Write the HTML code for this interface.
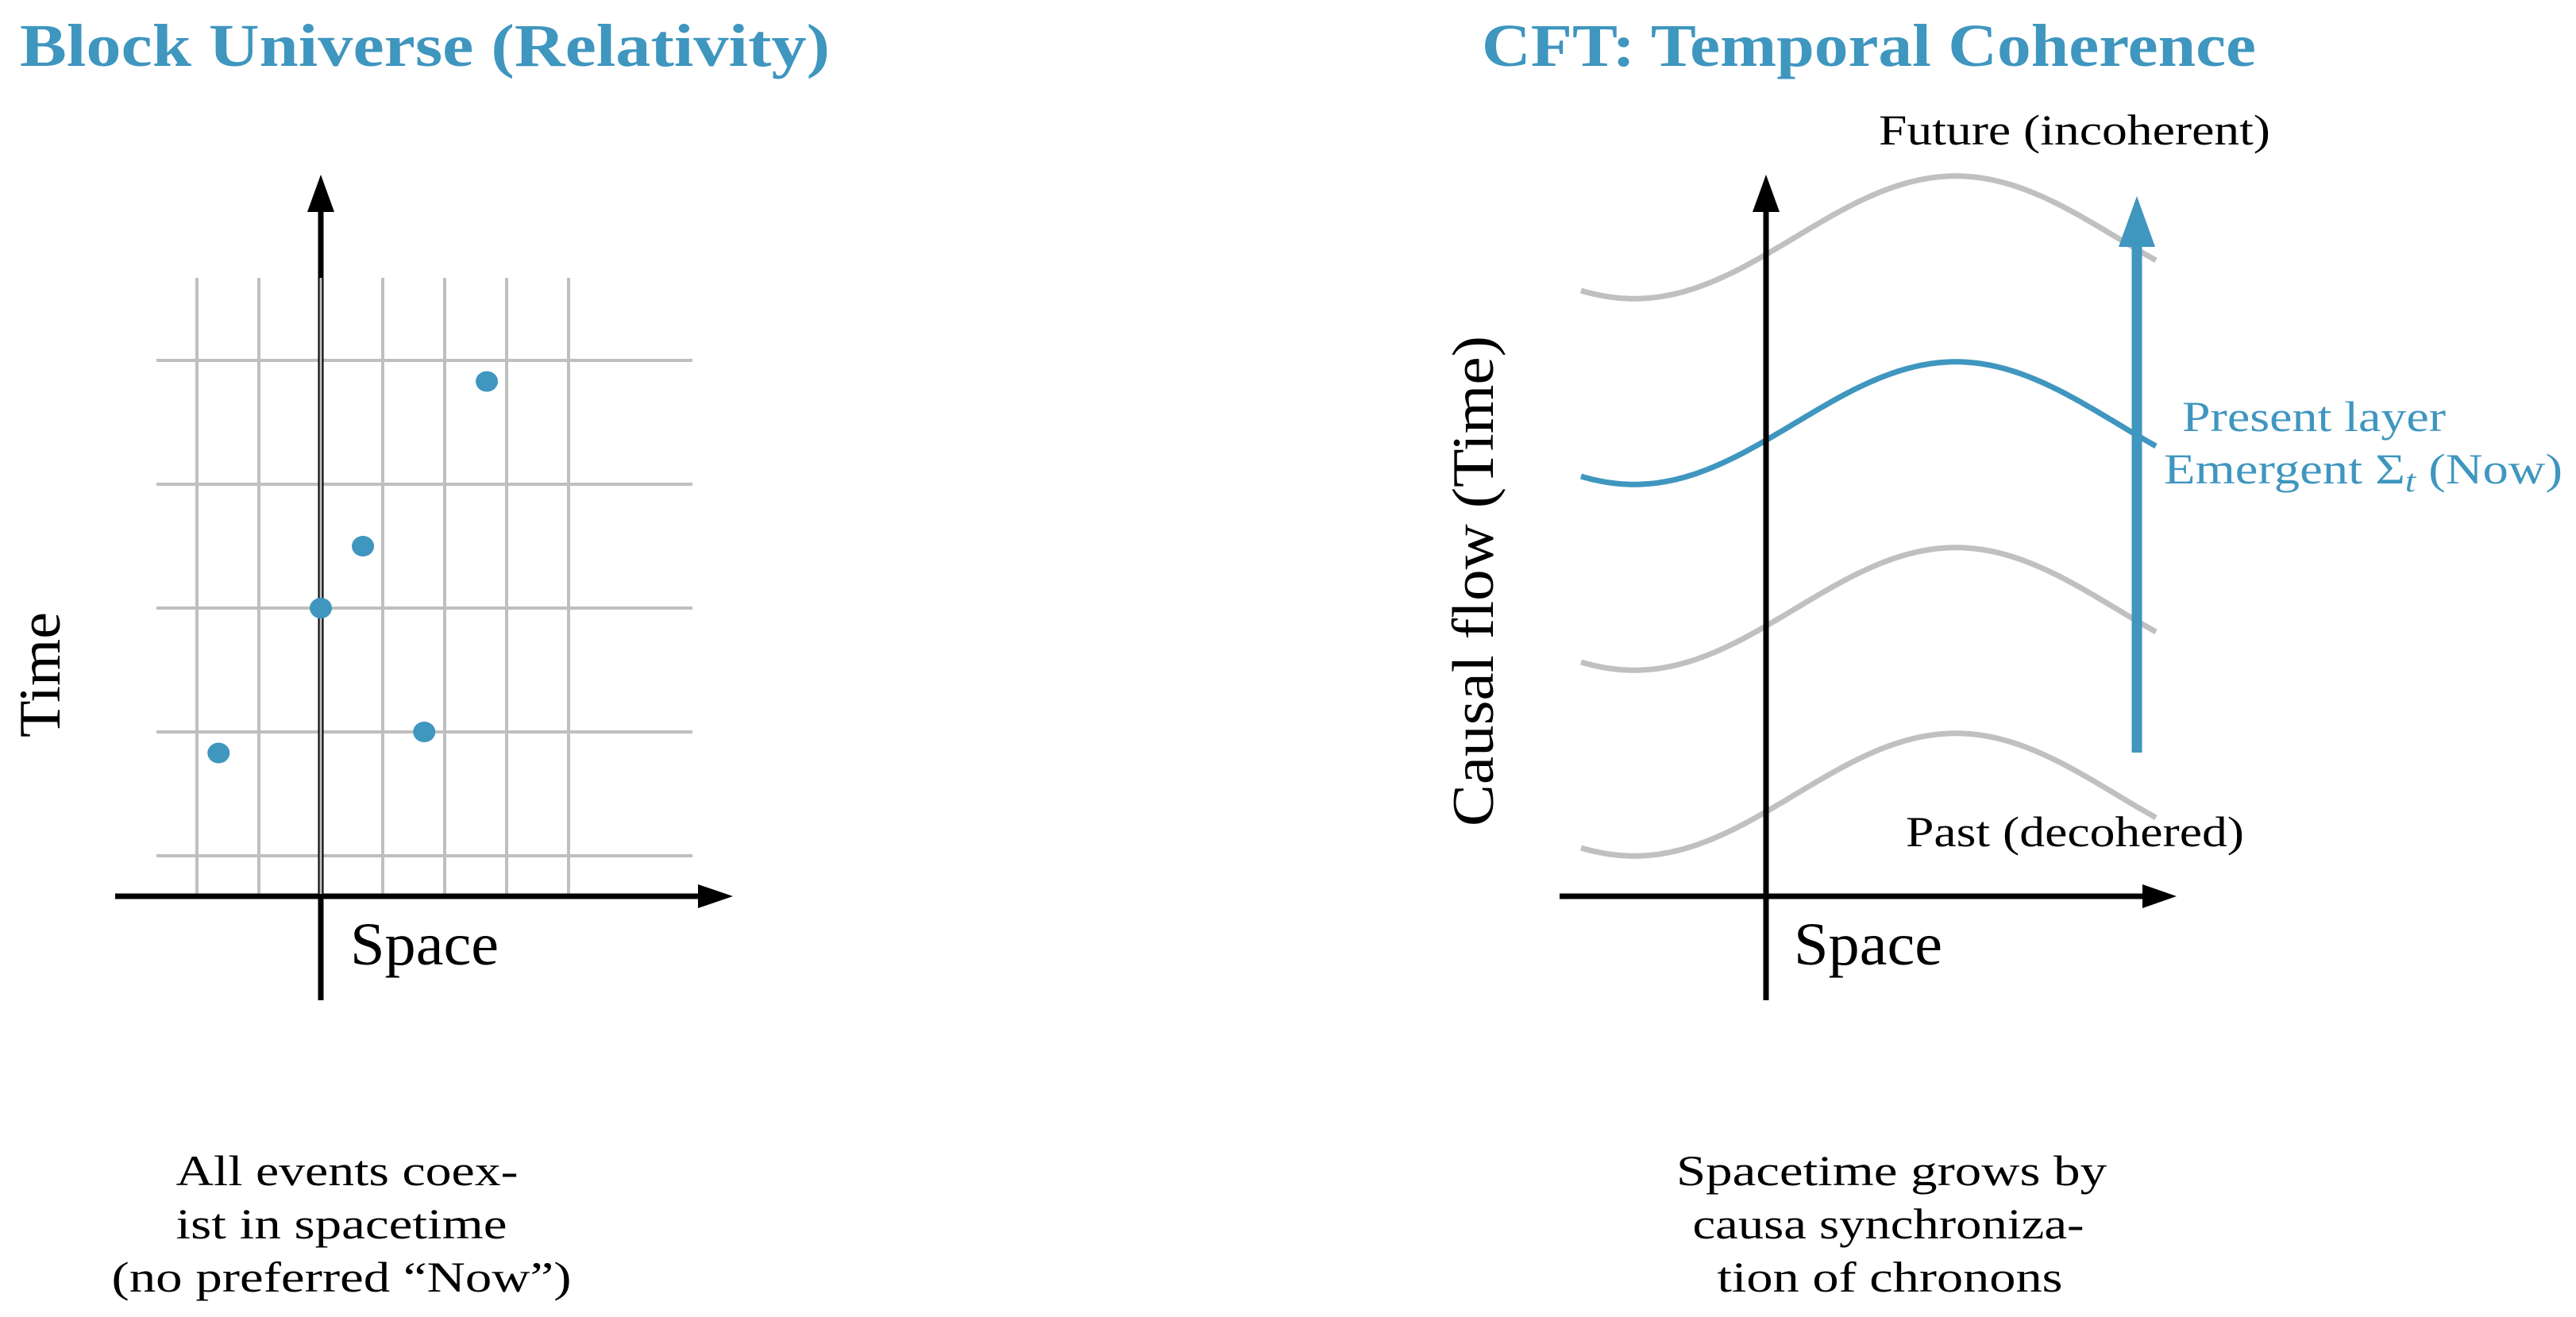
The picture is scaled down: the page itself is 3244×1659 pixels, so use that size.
<!DOCTYPE html>
<html><head><meta charset="utf-8"><style>
html,body{margin:0;padding:0;background:#fff;}
svg{display:block;font-family:"Liberation Serif","DejaVu Serif",serif;}
</style></head><body>
<svg id="chart" width="3244" height="1659" viewBox="0 0 3244 1659" xmlns="http://www.w3.org/2000/svg">
<g id="left">
<text x="25" y="83" font-size="76" font-weight="bold" fill="#3f96bf" textLength="1020" lengthAdjust="spacingAndGlyphs">Block Universe (Relativity)</text>
<g id="grid"></g>
<line x1="145" y1="1129" x2="885" y2="1129" stroke="#000" stroke-width="7"/>
<polygon points="923,1129 879,1114 879,1144" fill="#000"/>
<line x1="404" y1="1260" x2="404" y2="255" stroke="#000" stroke-width="7"/>
<line x1="404" y1="350" x2="404" y2="1126" stroke="#bfbfbf" stroke-width="3"/>
<polygon points="404,220 387,267 421,267" fill="#000"/>
<g id="points"></g>
<text transform="translate(75,850) rotate(-90)" text-anchor="middle" font-size="74" textLength="158" lengthAdjust="spacingAndGlyphs">Time</text>
<text x="441" y="1215" font-size="76" textLength="187" lengthAdjust="spacingAndGlyphs">Space</text>
<g font-size="54" text-anchor="middle">
<text x="437" y="1493" textLength="431" lengthAdjust="spacingAndGlyphs">All events coex-</text>
<text x="430" y="1560" textLength="417" lengthAdjust="spacingAndGlyphs">ist in spacetime</text>
<text x="430" y="1627" textLength="579" lengthAdjust="spacingAndGlyphs">(no preferred “Now”)</text>
</g>
</g>
<g id="right">
<text x="1866" y="83" font-size="76" font-weight="bold" fill="#3f96bf" textLength="975" lengthAdjust="spacingAndGlyphs">CFT: Temporal Coherence</text>
<g id="waves"></g>
<line x1="1964" y1="1129" x2="2705" y2="1129" stroke="#000" stroke-width="7"/>
<polygon points="2741,1129 2698,1114 2698,1144" fill="#000"/>
<line x1="2224" y1="1260" x2="2224" y2="255" stroke="#000" stroke-width="7"/>
<polygon points="2224,220 2207,267 2241,267" fill="#000"/>
<line x1="2691" y1="948" x2="2691" y2="300" stroke="#3f96bf" stroke-width="13"/>
<polygon points="2691,247 2668,311 2714,311" fill="#3f96bf"/>
<text x="2366" y="182" font-size="54" textLength="493" lengthAdjust="spacingAndGlyphs">Future (incoherent)</text>
<text x="2400" y="1066" font-size="54" textLength="426" lengthAdjust="spacingAndGlyphs">Past (decohered)</text>
<text x="2748" y="543" font-size="54" fill="#3f96bf" textLength="332" lengthAdjust="spacingAndGlyphs">Present layer</text>
<text x="2725" y="609" font-size="54" fill="#3f96bf" textLength="502" lengthAdjust="spacingAndGlyphs">Emergent Σ<tspan font-style="italic" font-size="40" dy="10">t</tspan><tspan dy="-10"> (Now)</tspan></text>
<text transform="translate(1880,732) rotate(-90)" text-anchor="middle" font-size="74" textLength="618" lengthAdjust="spacingAndGlyphs">Causal flow (Time)</text>
<text x="2259" y="1215" font-size="76" textLength="187" lengthAdjust="spacingAndGlyphs">Space</text>
<g font-size="54" text-anchor="middle">
<text x="2382" y="1493" textLength="542" lengthAdjust="spacingAndGlyphs">Spacetime grows by</text>
<text x="2378" y="1560" textLength="493" lengthAdjust="spacingAndGlyphs">causa synchroniza-</text>
<text x="2380" y="1627" textLength="435" lengthAdjust="spacingAndGlyphs">tion of chronons</text>
</g>
</g>
<script>
// Left panel data (space units, time units)
const gridX = [-2, -1, 0, 1, 2, 3, 4];
const gridT = [0, 1, 2, 3, 4];
const eventX = [-1.65, 0, 0.68, 1.67, 2.68];
const eventT = [0.83, 2, 2.5, 1, 3.83];
// Right panel data (layers bottom to top)
const layerCenters = [0, 1, 2, 3];
const layerIsPresent = [false, false, true, false];
const waveAmp = 0.33;

const NS = "http://www.w3.org/2000/svg";
function sx(v){ return 404 + v*78; }
function ty(v){ return 1078 - v*156; }
const grid = document.getElementById('grid');
gridX.forEach(function(v){
  const l = document.createElementNS(NS,'line');
  l.setAttribute('x1',sx(v)); l.setAttribute('x2',sx(v));
  l.setAttribute('y1',350); l.setAttribute('y2',1129);
  l.setAttribute('stroke','#bfbfbf'); l.setAttribute('stroke-width','4');
  
  
  grid.appendChild(l);
});
gridT.forEach(function(v){
  const l = document.createElementNS(NS,'line');
  l.setAttribute('x1',197); l.setAttribute('x2',872);
  l.setAttribute('y1',ty(v)); l.setAttribute('y2',ty(v));
  l.setAttribute('stroke','#bfbfbf'); l.setAttribute('stroke-width','4');
  
  
  grid.appendChild(l);
});
const pts = document.getElementById('points');
eventX.forEach(function(v,i){
  const c = document.createElementNS(NS,'ellipse');
  c.setAttribute('cx',sx(v)); c.setAttribute('cy',ty(eventT[i]));
  c.setAttribute('rx',14); c.setAttribute('ry',13);
  c.setAttribute('fill','#3f96bf');
  
  
  pts.appendChild(c);
});
function ly(v){ return 1001 - v*234; }
const waves = document.getElementById('waves');
layerCenters.forEach(function(v,i){
  const c = ly(v), A = waveAmp*234;
  let d = '';
  for(let x=1991; x<=2718; x+=4){
    const y = c + A*Math.cos(2*Math.PI*(x-2058)/810);
    d += (d?'L':'M') + x + ',' + y.toFixed(1);
  }
  const p = document.createElementNS(NS,'path');
  p.setAttribute('d',d);
  p.setAttribute('fill','none');
  p.setAttribute('stroke', layerIsPresent[i] ? '#3f96bf' : '#c0c0c0');
  p.setAttribute('stroke-width','7');
  
  
  waves.appendChild(p);
});
</script>
</svg>
</body></html>
